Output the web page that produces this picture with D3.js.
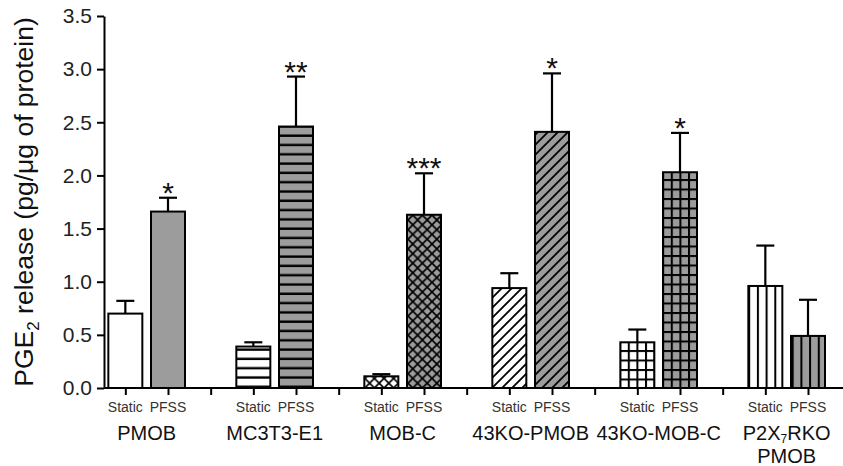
<!DOCTYPE html>
<html><head><meta charset="utf-8">
<script src="https://cdn.jsdelivr.net/npm/d3@7"></script>
<style>
body{margin:0;background:#fff;}
svg{display:block;font-family:"Liberation Sans",Arial,sans-serif;}
</style></head>
<body><svg id="c" width="843" height="466"></svg>
<script>
const groups = ["PMOB","MC3T3-E1","MOB-C","43KO-PMOB","43KO-MOB-C","P2X7RKO PMOB"];
const conditions = ["Static","PFSS"];
const staticVals = [0.70, 0.39, 0.11, 0.94, 0.43, 0.96];
const staticErr  = [0.12, 0.04, 0.02, 0.14, 0.12, 0.38];
const pfssVals   = [1.66, 2.46, 1.63, 2.41, 2.03, 0.49];
const pfssErr    = [0.13, 0.47, 0.39, 0.55, 0.37, 0.34];
const stars      = ["*","**","***","*","*",""];
const patterns   = ["solid","hlines","cross","diag","grid","vlines"];
const yTicks = [0,0.5,1.0,1.5,2.0,2.5,3.0,3.5];

const svg = d3.select("#c");
const x0 = 104, y0 = 388;
const y = d3.scaleLinear().domain([0,3.5]).range([388,16]);
const slot = d3.scaleLinear().domain([0,18]).range([104,872]);
const barW = 34;

// patterns
const defs = svg.append("defs");
function mkPattern(id, type, fill){
  let size, p;
  if(type==="hlines"){ size=[10,9.3];
    p=defs.append("pattern").attr("id",id).attr("patternUnits","userSpaceOnUse").attr("width",size[0]).attr("height",size[1]).attr("y",y0);
    p.append("rect").attr("width",size[0]).attr("height",size[1]).attr("fill",fill);
    p.append("rect").attr("x",0).attr("y",size[1]-2.4).attr("width",size[0]).attr("height",2.4).attr("fill","#000");
  } else if(type==="vlines"){ size=[8.7,10];
    p=defs.append("pattern").attr("id",id).attr("patternUnits","userSpaceOnUse").attr("width",size[0]).attr("height",size[1]);
    p.append("rect").attr("width",size[0]).attr("height",size[1]).attr("fill",fill);
    p.append("rect").attr("x",0).attr("y",0).attr("width",2).attr("height",size[1]).attr("fill","#000");
  } else if(type==="grid"){ size=[8.6,9.5];
    p=defs.append("pattern").attr("id",id).attr("patternUnits","userSpaceOnUse").attr("width",size[0]).attr("height",size[1]).attr("y",y0);
    p.append("rect").attr("width",size[0]).attr("height",size[1]).attr("fill",fill);
    p.append("rect").attr("x",0).attr("y",0).attr("width",2).attr("height",size[1]).attr("fill","#000");
    p.append("rect").attr("x",0).attr("y",0).attr("width",size[0]).attr("height",2).attr("fill","#000");
  } else if(type==="diag"){ size=[10,10];
    p=defs.append("pattern").attr("id",id).attr("patternUnits","userSpaceOnUse").attr("width",size[0]).attr("height",size[1]);
    p.append("rect").attr("width",size[0]).attr("height",size[1]).attr("fill",fill);
    p.append("path").attr("d","M-2.5,2.5 L2.5,-2.5 M0,10 L10,0 M7.5,12.5 L12.5,7.5").attr("stroke","#000").attr("stroke-width",1.8);
  } else if(type==="cross"){ size=[9.6,9.6];
    p=defs.append("pattern").attr("id",id).attr("patternUnits","userSpaceOnUse").attr("width",size[0]).attr("height",size[1]).attr("y",y0);
    p.append("rect").attr("width",size[0]).attr("height",size[1]).attr("fill",fill);
    const s=size[0];
    p.append("path").attr("d",`M-1,-1 L${s+1},${s+1} M-1,${s+1} L${s+1},-1`).attr("stroke","#000").attr("stroke-width",1.7);
  }
  return `url(#${id})`;
}
function fillFor(g, cond){
  const type = patterns[g];
  const base = cond===0 ? "#fff" : "#9c9c9c";
  if(type==="solid") return base;
  return mkPattern(`p${g}_${cond}`, type, base);
}

// y axis
const yAxis = svg.append("g").attr("transform",`translate(${x0},0)`)
  .call(d3.axisLeft(y).tickValues(yTicks).tickFormat(d3.format(".1f")).tickSize(7).tickSizeOuter(0).tickPadding(5));
yAxis.select(".domain").attr("stroke","#000").attr("stroke-width",2);
yAxis.selectAll(".tick line").attr("stroke","#000").attr("stroke-width",2);
yAxis.selectAll(".tick text").attr("font-size",21).attr("fill","#222").attr("font-family","Liberation Sans, Arial, sans-serif");

// bars
const data = [];
groups.forEach((g,i)=>{
  data.push({g:i,c:0,v:staticVals[i],e:staticErr[i],slot:i*3});
  data.push({g:i,c:1,v:pfssVals[i],e:pfssErr[i],slot:i*3+1});
});
const cx = d => slot(d.slot+0.5);

// error bars
const eb = svg.append("g");
eb.selectAll("line.v").data(data).join("line")
  .attr("x1",cx).attr("x2",cx).attr("y1",d=>y(d.v)).attr("y2",d=>y(d.v+d.e))
  .attr("stroke","#000").attr("stroke-width",2.2);
eb.selectAll("line.c").data(data).join("line")
  .attr("x1",d=>cx(d)-9).attr("x2",d=>cx(d)+9).attr("y1",d=>y(d.v+d.e)).attr("y2",d=>y(d.v+d.e))
  .attr("stroke","#000").attr("stroke-width",2.2);

svg.append("g").selectAll("rect").data(data).join("rect")
  .attr("x",d=>cx(d)-barW/2).attr("width",barW)
  .attr("y",d=>y(d.v)).attr("height",d=>y(0)-y(d.v))
  .attr("fill",d=>fillFor(d.g,d.c))
  .attr("stroke","#000").attr("stroke-width",2);

// stars
svg.append("g").selectAll("text").data(data.filter(d=>d.c===1 && stars[d.g])).join("text")
  .attr("x",cx).attr("y",d=>y(d.v+d.e)+5).attr("text-anchor","middle")
  .attr("font-size",30).attr("fill","#111").text(d=>stars[d.g]);

// x axis
const tickSlots = [];
for(let i=0;i<18;i++) tickSlots.push(i+0.5);
const xAxis = svg.append("g").attr("transform",`translate(0,${y0})`)
  .call(d3.axisBottom(slot).tickValues(tickSlots).tickFormat("").tickSize(7).tickSizeOuter(0));
xAxis.select(".domain").attr("stroke","#000").attr("stroke-width",2).attr("d",`M${x0},0H843`);
xAxis.selectAll(".tick line").attr("stroke","#000").attr("stroke-width",2);

// condition labels
svg.append("g").selectAll("text").data(data).join("text")
  .attr("x",cx).attr("y",412).attr("text-anchor","middle")
  .attr("font-size",14).attr("fill","#333").text(d=>conditions[d.c]);

// group labels
const gl = svg.append("g").attr("font-size",20).attr("fill","#111").attr("text-anchor","middle");
groups.forEach((g,i)=>{
  const gx = (slot(i*3+0.5)+slot(i*3+1.5))/2;
  if(g==="P2X7RKO PMOB"){
    const t = gl.append("text").attr("x",gx).attr("y",440);
    t.append("tspan").text("P2X");
    t.append("tspan").attr("font-size",12).attr("dy",3).text("7");
    t.append("tspan").attr("dy",-3).text("RKO");
    gl.append("text").attr("x",gx).attr("y",463).text("PMOB");
  } else {
    gl.append("text").attr("x",gx).attr("y",440).text(g);
  }
});

// y label
const yl = svg.append("text").attr("transform","translate(33,202) rotate(-90)")
  .attr("text-anchor","middle").attr("font-size",26.5).attr("fill","#111");
yl.append("tspan").text("PGE");
yl.append("tspan").attr("font-size",17).attr("dy",6).text("2");
yl.append("tspan").attr("dy",-6).text(" release (pg/μg of protein)");
</script></body></html>
